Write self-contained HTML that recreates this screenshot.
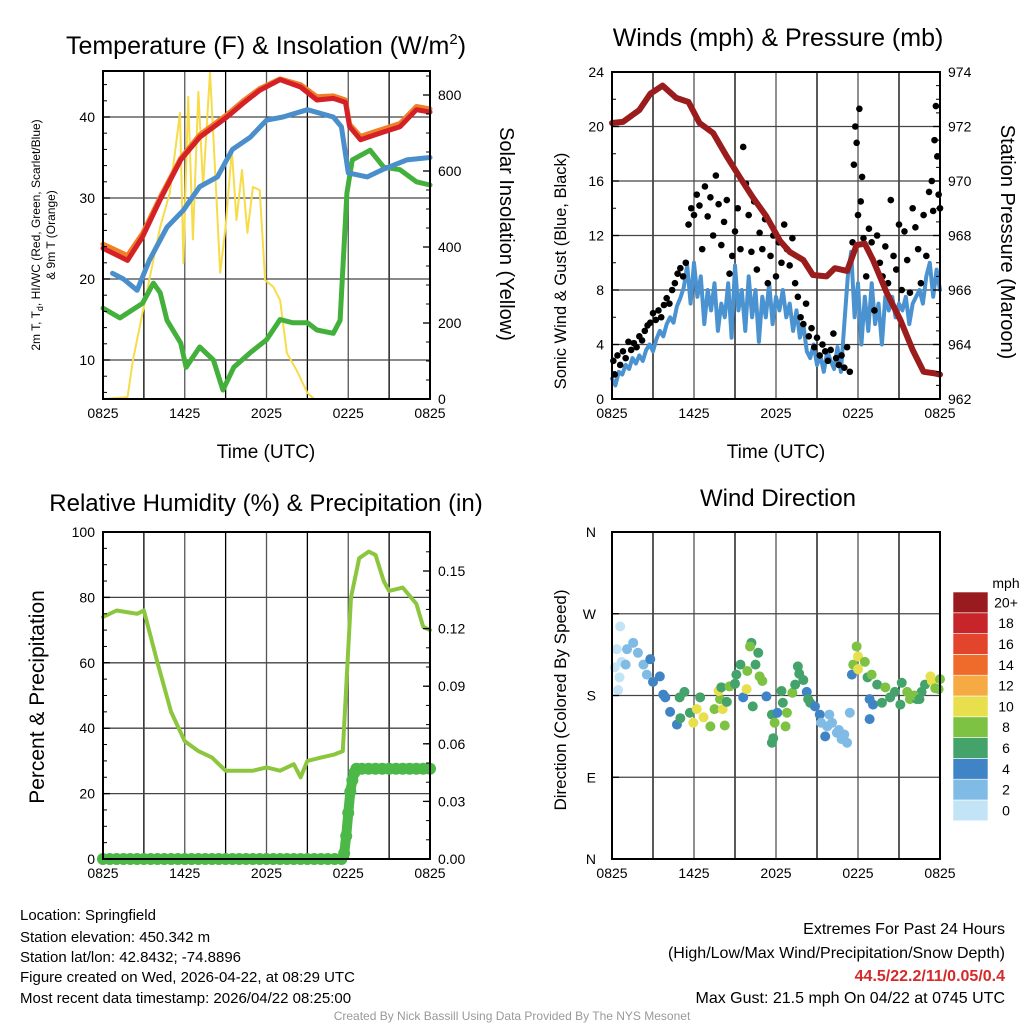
<!DOCTYPE html>
<html><head><meta charset="utf-8"><style>
body{margin:0;background:#fff;}
svg{display:block;font-family:"Liberation Sans",sans-serif;}
</style></head><body>
<svg id="chart" width="1024" height="1024" viewBox="0 0 1024 1024" xmlns="http://www.w3.org/2000/svg">
<g id="layer"></g>
<text x="266" y="54" font-size="25" text-anchor="middle">Temperature (F) &amp; Insolation (W/m<tspan font-size="15" dy="-10">2</tspan><tspan dy="10">)</tspan></text>
<text x="778" y="46" font-size="25" text-anchor="middle">Winds (mph) &amp; Pressure (mb)</text>
<text x="266" y="511" font-size="24" text-anchor="middle">Relative Humidity (%) &amp; Precipitation (in)</text>
<text x="778" y="506" font-size="24" text-anchor="middle">Wind Direction</text>
<text x="266" y="458" font-size="19" text-anchor="middle">Time (UTC)</text>
<text x="776" y="458" font-size="19" text-anchor="middle">Time (UTC)</text>
<text transform="translate(40,235) rotate(-90)" font-size="12" text-anchor="middle">2m T, T<tspan font-size="9" dy="3">d</tspan><tspan dy="-3">, HI/WC (Red, Green, Scarlet/Blue)</tspan></text>
<text transform="translate(55,235) rotate(-90)" font-size="12" text-anchor="middle">&amp; 9m T (Orange)</text>
<text transform="translate(500,234) rotate(90)" font-size="20" text-anchor="middle">Solar Insolation (Yellow)</text>
<text transform="translate(566,271) rotate(-90)" font-size="16.5" text-anchor="middle">Sonic Wind &amp; Gust (Blue, Black)</text>
<text transform="translate(1001,242) rotate(90)" font-size="20" text-anchor="middle">Station Pressure (Maroon)</text>
<text transform="translate(44,697) rotate(-90)" font-size="21" text-anchor="middle">Percent &amp; Precipitation</text>
<text transform="translate(566,700) rotate(-90)" font-size="17" text-anchor="middle">Direction (Colored By Speed)</text>
<text x="1006" y="588" font-size="14" text-anchor="middle">mph</text>
<g font-size="15">
<text x="20" y="920">Location: Springfield</text>
<text x="20" y="942">Station elevation: 450.342 m</text>
<text x="20" y="962">Station lat/lon: 42.8432; -74.8896</text>
<text x="20" y="982">Figure created on Wed, 2026-04-22, at 08:29 UTC</text>
<text x="20" y="1003">Most recent data timestamp: 2026/04/22 08:25:00</text>
</g>
<g font-size="16" text-anchor="end">
<text x="1005" y="934">Extremes For Past 24 Hours</text>
<text x="1005" y="958">(High/Low/Max Wind/Precipitation/Snow Depth)</text>
<text x="1005" y="981" fill="#d42a2a" font-weight="bold">44.5/22.2/11/0.05/0.4</text>
<text x="1005" y="1003">Max Gust: 21.5 mph On 04/22 at 0745 UTC</text>
</g>
<text x="512" y="1020" font-size="12" fill="#999" text-anchor="middle">Created By Nick Bassill Using Data Provided By The NYS Mesonet</text>
</svg>
<script>
// ---- data ----
const xTickLabels = ["0825","1425","2025","0225","0825"];
const tempTimes = [0,1.8,2.9,4.2,5.7,7.1,9.1,10.3,11.5,13,14.5,15.7,16.9,17.8,18.1,18.9,20.5,21.8,23,24];
const tempValues = [23.8,22.3,25.2,29.8,34.7,37.5,40,41.7,43.3,44.6,43.7,42.1,42.3,41.8,38.8,37.2,38.1,38.8,40.9,40.6];
const temp9mValues = [24.3,22.9,25.6,30.1,34.9,37.8,40.3,42.0,43.5,44.7,44.0,42.5,42.6,42.1,39.1,37.6,38.5,39.2,41.3,41.0];
const hiwcTimes = [0.7,1.5,2.5,3.4,4.7,5.9,7.1,8.4,9.5,10.8,12,13.2,15,16.9,17.5,18,19.4,20.5,22.3,24];
const hiwcValues = [20.7,20.0,18.6,22.3,26.4,28.5,31.4,32.6,36,37.5,39.6,40,40.9,40,38.8,33.1,32.6,33.5,34.7,35];
const dewTimes = [0,1.25,2.9,3.7,4.2,4.7,5.7,6.1,7.1,8.1,8.8,9.6,10.8,12,13,13.9,15,15.7,16.9,17.4,17.9,18.3,19.6,20.6,21.8,23,24];
const dewValues = [16.4,15.2,17,19.5,18.3,14.9,12.1,9.1,11.6,10,6.3,9.1,10.9,12.5,15,14.6,14.6,13.7,13.3,14.9,30.6,34.7,35.9,33.8,33.5,32,31.6];
const solarTimes = [0,1.8,2.2,3.2,4.2,4.9,5.65,5.9,6.25,6.6,7,7.35,7.85,8.2,8.6,9,9.45,9.8,10.2,10.6,11,11.5,11.9,12.5,13,13.5,14.2,15,15.5,24];
const solarValues = [0,5,103,279,453,542,753,358,795,420,808,558,860,621,332,453,655,471,603,437,558,550,313,295,260,121,76,16,0,0];

const windTicks = [0,4,8,12,16,20,24];
const presTicks = [962,964,966,968,970,972,974];
const sonicValues = [1.5,1.0,2.0,1.8,2.5,2.2,3.0,2.6,3.2,
2.8,3.6,4.0,3.5,4.4,5.0,4.6,5.5,
6.0,5.6,6.8,7.4,8.2,9.8,7.0,10.0,
7.5,9.0,5.5,8.0,6.5,8.5,5.0,7.0,
6.0,8.5,4.5,9.8,6.5,8.0,5.0,9.0,
6.0,8.0,4.2,7.5,6.0,8.5,5.5,7.5,
6.5,8.0,6.0,7.0,5.0,6.5,4.5,5.5,
3.5,3.0,4.0,2.5,3.2,2.0,3.5,2.8,
2.2,3.8,2.0,5.5,9.0,10.8,6.0,8.5,
4.0,7.5,5.0,8.5,5.5,7.0,4.0,7.5,
6.5,7.5,6.0,7.0,6.5,7.5,5.5,7.0,
7.5,8.0,7.0,9.0,10.0,7.5,9.5,8.0];
const presTimes = [0,0.8,2,2.8,3.7,4.7,5.6,6.4,7.4,8.4,9.4,10.3,11.3,12.3,13,14,14.7,15.7,16.3,17.2,17.9,18.5,19.1,20.1,21.1,22,22.8,23.5,24];
const presValues = [972.13,972.17,972.6,973.2,973.5,973.05,972.9,972.13,971.76,970.9,970.1,969.4,968.7,967.8,967.4,967.1,966.55,966.5,966.8,966.7,967.65,967.7,967.1,965.9,964.9,963.8,963,962.95,962.9];
const gustTimes = [0.1,0.2,0.4,0.6,0.8,1.0,1.2,1.4,1.6,1.8,2.0,2.2,2.4,2.6,2.8,3.0,3.2,3.4,3.6,3.8,4.0,4.2,4.4,4.6,4.8,5.0,5.2,5.4,
5.6,5.8,6.0,6.2,6.4,6.6,6.8,7.0,7.2,7.4,7.6,7.8,8.0,8.2,8.4,8.6,8.8,9.0,9.2,9.4,9.6,9.8,10.0,10.2,10.4,10.6,10.8,11.0,11.2,11.4,11.6,11.8,12.0,12.2,12.4,12.6,12.8,13.0,13.2,13.4,
13.6,13.8,14.0,14.2,14.4,14.6,14.8,15.0,15.2,15.4,15.6,15.8,16.0,16.2,16.4,16.6,16.8,17.0,17.2,17.4,
17.6,17.7,17.8,17.9,18.0,18.1,18.2,18.3,18.4,18.6,18.8,
19.0,19.2,19.4,19.6,19.8,20.0,20.2,20.4,20.6,20.8,21.0,21.2,21.4,21.6,21.8,22.0,22.2,22.4,22.6,22.8,23.0,23.2,23.4,23.5,23.6,23.7,23.8,23.9,24.0];
const gustValues = [2.8,1.8,3.2,2.5,3.5,3.0,4.2,3.6,4.1,3.8,4.6,4.3,5.0,5.4,5.6,6.3,5.8,6.5,6.0,6.9,7.4,7.0,8.0,8.5,9.2,9.6,9.0,10.0,
12.8,14.0,13.5,15.0,14.2,11.0,15.6,13.4,14.8,12.0,16.4,14.3,11.3,13.0,14.6,9.2,10.5,12.3,14.0,11.0,18.5,15.8,13.5,10.8,14.5,9.5,12.2,11.0,13.2,8.5,10.5,12.0,9.0,11.5,10.0,12.8,11.0,9.8,11.8,8.5,
7.5,6.0,5.5,7.0,4.6,5.2,3.8,4.5,3.2,4.0,3.5,2.8,3.6,4.8,3.0,2.5,3.2,2.3,3.8,2.0,
11.5,17.2,20.0,18.8,13.5,21.3,14.5,16.3,11.8,9.0,12.5,
11.5,6.5,12.0,10.0,9.0,11.2,8.5,14.6,10.5,9.5,12.8,8.0,12.3,10.2,7.8,14.0,12.6,11.0,8.5,13.5,10.5,15.2,16.0,13.8,19.0,21.5,17.8,15.0,14.0];

const rhTicks = [0,20,40,60,80,100];
const precipTicks = ["0.00","0.03","0.06","0.09","0.12","0.15"];
const rhTimes = [0,1,2.5,3,4,5,6,7,8,9,10,11,12,13,14,14.5,15,16,17,17.6,18.2,18.8,19.5,20,20.6,21,22,23,23.5,24];
const rhValues = [74,76,75,76,60,45,36,33,31,27,27,27,28,27,29,25,30,31,32,33,80,92,94,93,85,82,83,78,71,70];
const precipTimes = [0,0.5,1,1.5,2,2.5,3,3.5,4,4.5,5,5.5,6,6.5,7,7.5,8,8.5,9,9.5,10,10.5,11,11.5,12,12.5,13,13.5,14,14.5,15,15.5,16,16.5,17,17.5,17.7,17.85,18.0,18.15,18.3,18.45,18.6,19,19.5,20,20.5,21,21.5,22,22.5,23,23.5,24];
const precipValues = [0,0,0,0,0,0,0,0,0,0,0,0,0,0,0,0,0,0,0,0,0,0,0,0,0,0,0,0,0,0,0,0,0,0,0,0,0.003,0.012,0.024,0.035,0.041,0.045,0.047,0.047,0.047,0.047,0.047,0.047,0.047,0.047,0.047,0.047,0.047,0.047];

const dirLabels = ["N","E","S","W","N"];
const speedLabels = ["0","2","4","6","8","10","12","14","16","18","20+"];
const speedColors = ["#c3e4f6","#80bbe5","#3f85c5","#43a36a","#7dc243","#e7df4c","#f6aa44","#ef6b2c","#e3452c","#c72529","#9a1b1f"];
const dirTimes = [0.6,0.35,0.2,0.45,0.7,0.55,1.55,1.1,1.9,2.3,2.55,1.0,2.8,3.0,3.5,3.75,3.9,
4.25,4.75,5.0,5.3,4.95,5.7,6.2,5.95,6.45,6.7,7.2,7.5,7.9,7.8,8.1,8.25,8.4,
8.0,8.6,9.1,9.4,9.0,9.6,9.85,9.9,10.2,10.1,10.7,10.5,10.8,11.0,10.3,11.3,
11.7,11.7,11.8,11.9,12.1,12.4,12.5,12.8,12.7,13.2,13.4,13.6,13.7,14.0,14.25,14.35,14.5,14.85,
15.2,15.3,15.6,15.9,16.1,16.45,16.8,17.0,17.2,17.4,15.75,16.6,
17.55,17.65,17.9,18.0,18.0,18.5,18.7,18.85,19.0,19.4,18.85,19.1,19.75,20.0,20.35,20.7,21.1,21.2,21.6,21.8,22.3,22.65,22.9,23.3,23.4,23.65,24.0,23.9,22.1,22.5];
const dirValues = [256,231,211,186,217,200,238,231,227,214,203,214,220,195,201,181,178,
162,148,155,184,178,161,165,150,178,156,146,165,176,185,165,147,173,
189,190,203,214,193,178,187,207,238,234,227,214,201,196,168,179,
159,128,133,150,161,185,172,161,146,183,192,212,204,197,184,176,172,168,
159,150,135,159,150,139,132,137,128,161,146,142,
203,214,234,223,209,217,200,176,203,192,154,170,172,189,178,184,170,194,184,176,176,184,192,201,196,188,198,187,180,176];
const dirSpeeds = [1,1,0,1,0,0,2,2,2,2,2,2,4,4,4,4,4,
5,4,6,6,6,7,10,10,7,10,8,8,8,11,10,8,6,
7,8,6,6,7,4,11,8,6,8,6,6,8,8,6,4,
6,6,6,8,4,6,6,8,8,8,6,6,6,6,4,6,6,4,
4,2,4,2,2,2,2,2,2,2,2,2,
4,8,8,10,10,8,6,4,8,6,4,4,6,8,6,6,6,6,8,8,6,6,6,10,10,8,8,8,8,6];

// ---- helpers ----
const NS = "http://www.w3.org/2000/svg";
const layer = document.getElementById("layer");
function mk(tag, attrs, parent) {
  const e = document.createElementNS(NS, tag);
  for (const k in attrs) e.setAttribute(k, attrs[k]);
  (parent || layer).appendChild(e);
  return e;
}
function lin(d0, d1, r0, r1) { return v => r0 + (v - d0) * (r1 - r0) / (d1 - d0); }

function panelFrame(name, L, T, R, B, hLines) {
  const g = mk("g", {});
  
  
  for (let i = 1; i < 8; i++) {
    const x = L + (R - L) * i / 8;
    const l = mk("line", {x1: x, x2: x, y1: T, y2: B, stroke: i % 2 ? "#000" : "#555", "stroke-width": 1.3}, g);
    
    
  }
  hLines.forEach(y => {
    const l = mk("line", {x1: L, x2: R, y1: y, y2: y, stroke: "#444", "stroke-width": 1.3}, g);
    
    
  });
  xTickLabels.forEach((lab, i) => {
    const x = L + (R - L) * i / 4;
    const t = mk("text", {x: x, y: B + 19, "font-size": 14, "text-anchor": "middle"}, g);
    t.textContent = lab;
    
    
  });
  return g;
}
function border(L, T, R, B) {
  const r = mk("rect", {x: L, y: T, width: R - L, height: B - T, fill: "none", stroke: "#000", "stroke-width": 2});
  
  
}
function yTicks(vals, labels, sy, x, side, minorStep, lo, hi) {
  vals.forEach((v, i) => {
    const y = sy(v);
    const t = mk("text", {x: side === "l" ? x - 8 : x + 8, y: y + 5, "font-size": 14, "text-anchor": side === "l" ? "end" : "start"});
    t.textContent = labels[i];
    
    
    mk("line", {x1: x, x2: side === "l" ? x + 7 : x - 7, y1: y, y2: y, stroke: "#000", "stroke-width": 1.3});
  });
  if (minorStep) for (let v = lo; v <= hi; v += minorStep) {
    const y = sy(v);
    mk("line", {x1: x, x2: side === "l" ? x + 4 : x - 4, y1: y, y2: y, stroke: "#000", "stroke-width": 1});
  }
}
function polyline(ts, vs, sx, sy, color, w, name) {
  const p = mk("polyline", {points: ts.map((t, i) => sx(t).toFixed(1) + "," + sy(vs[i]).toFixed(1)).join(" "), fill: "none", stroke: color, "stroke-width": w, "stroke-linejoin": "round", "stroke-linecap": "round"});
  
  
}

// ---- Panel 1: temperature ----
(function(){
  const L = 103, T = 71, R = 430, B = 399;
  const sx = lin(0, 24, L, R), sy = lin(10, 40, 360, 117), sr = lin(0, 800, 399, 95);
  panelFrame("temp-panel", L, T, R, B, [10,20,30,40].map(sy));
  polyline(solarTimes, solarValues, sx, sr, "#f7dc4a", 2, "solar-line");
  polyline(dewTimes, dewValues, sx, sy, "#44b03c", 5, "dewpoint-line");
  polyline(hiwcTimes, hiwcValues, sx, sy, "#4a8fcb", 5, "hiwc-line");
  polyline(tempTimes, temp9mValues, sx, sy, "#f07f2a", 5, "temp-9m-line");
  polyline(tempTimes, tempValues, sx, sy, "#d42026", 5, "temp-2m-line");
  border(L, T, R, B);
  yTicks([10,20,30,40], ["10","20","30","40"], sy, L, "l", 2, 6, 44);
  yTicks([0,200,400,600,800], ["0","200","400","600","800"], sr, R, "r", 50, 0, 850);
})();

// ---- Panel 2: wind & pressure ----
(function(){
  const L = 612, T = 72, R = 940, B = 399;
  const sx = lin(0, 24, L, R), sy = lin(0, 24, 399, 72), sp = lin(962, 974, 399, 72);
  panelFrame("wind-panel", L, T, R, B, windTicks.map(sy));
  polyline(sonicValues.map((v, i) => i * 0.25), sonicValues, sx, sy, "#4a92d0", 4, "sonic-wind-line");
  gustTimes.forEach((t, i) => {
    const c = mk("circle", {cx: sx(t), cy: sy(gustValues[i]), r: 3.3, fill: "#000"});
    
    
  });
  polyline(presTimes, presValues, sx, sp, "#9a1c1c", 6, "pressure-line");
  border(L, T, R, B);
  yTicks(windTicks, windTicks.map(String), sy, L, "l", 2, 0, 24);
  yTicks(presTicks, presTicks.map(String), sp, R, "r", 0.5, 962, 974);
})();

// ---- Panel 3: RH & precip ----
(function(){
  const L = 103, T = 532, R = 430, B = 859;
  const sx = lin(0, 24, L, R), sy = lin(0, 100, 859, 532), sp = lin(0, 0.15, 859, 571);
  panelFrame("rh-panel", L, T, R, B, [20,40,60,80].map(sy));
  polyline(rhTimes, rhValues, sx, sy, "#8cc63f", 4, "rh-line");
  polyline(precipTimes, precipValues, sx, sp, "#4cb848", 10, "precip-line");
  precipTimes.forEach((t, i) => {
    const c = mk("circle", {cx: sx(t), cy: sp(precipValues[i]), r: 6, fill: "#4cb848"});
    
    
  });
  border(L, T, R, B);
  yTicks(rhTicks, rhTicks.map(String), sy, L, "l", 5, 0, 100);
  yTicks(precipTicks.map(Number), precipTicks, sp, R, "r", 0.01, 0, 0.17);
})();

// ---- Panel 4: wind direction ----
(function(){
  const L = 612, T = 532, R = 940, B = 859;
  const sx = lin(0, 24, L, R), sy = lin(0, 360, 859, 532);
  panelFrame("dir-panel", L, T, R, B, [90,180,270].map(sy));
  dirTimes.forEach((t, i) => {
    const bin = Math.min(10, Math.floor(dirSpeeds[i] / 2));
    const c = mk("circle", {cx: sx(t), cy: sy(dirValues[i]), r: 5, fill: speedColors[bin]});
    
    
  });
  border(L, T, R, B);
  dirLabels.forEach((lab, i) => {
    const y = sy(i * 90);
    const t = mk("text", {x: L - 16, y: y + 5, "font-size": 14, "text-anchor": "end"});
    t.textContent = lab;
    
    
    mk("line", {x1: L, x2: L + 7, y1: y, y2: y, stroke: "#000", "stroke-width": 1.3});
  });
  const cbTop = 592, cbH = 20.8;
  speedLabels.forEach((lab, i) => {
    const k = 10 - i;
    const y = cbTop + k * cbH;
    const r = mk("rect", {x: 953, y: y, width: 35, height: cbH, fill: speedColors[i], stroke: "#fff", "stroke-width": 0.6});
    
    
    const t = mk("text", {x: 1006, y: y + cbH / 2 + 5, "font-size": 14, "text-anchor": "middle"});
    t.textContent = lab;
    
    
  });
})();
</script>
</body></html>
